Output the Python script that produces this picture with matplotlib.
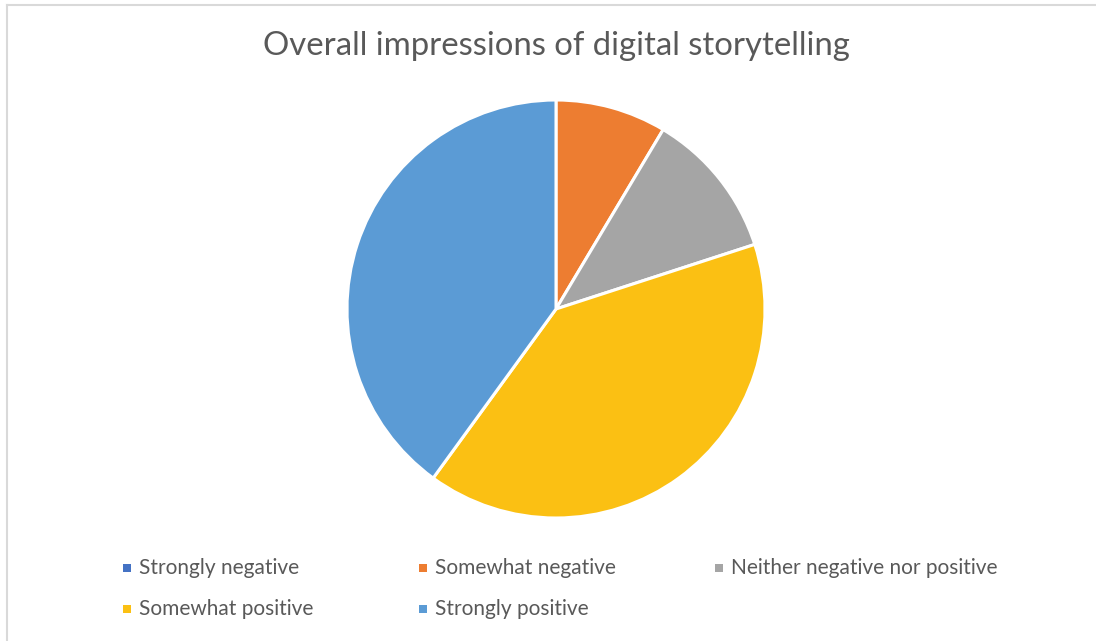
import matplotlib
matplotlib.use("Agg")
import matplotlib.pyplot as plt
from matplotlib.patches import Rectangle
from matplotlib.lines import Line2D

title = "Overall impressions of digital storytelling"
categories = ["Strongly negative", "Somewhat negative", "Neither negative nor positive",
              "Somewhat positive", "Strongly positive"]
counts = [0, 3, 4, 14, 14]
colors = ["#4472C4", "#ED7D31", "#A5A5A5", "#FBC013", "#5B9BD5"]

W, H = 1096, 641
fig = plt.figure(figsize=(W / 100, H / 100), dpi=100)
fig.patch.set_facecolor("white")

# light frame edges along the top and left of the chart area
frame_kw = dict(transform=fig.transFigure, color="#D9D9D9", linewidth=1.5)
fig.lines.append(Line2D([7 / W, 1.0], [1 - 5 / H, 1 - 5 / H], **frame_kw))
fig.lines.append(Line2D([7 / W, 7 / W], [0.0, 1 - 5 / H], **frame_kw))

cx, cy, r = 556, 309, 209
ax = fig.add_axes([(cx - r) / W, 1 - (cy + r) / H, 2 * r / W, 2 * r / H])
ax.pie(counts, colors=colors, startangle=90, counterclock=False, radius=1,
       wedgeprops=dict(edgecolor="white", linewidth=2.2))
ax.set_xlim(-1, 1)
ax.set_ylim(-1, 1)
ax.set_aspect("equal")
ax.axis("off")

text_color = "#595959"
fig.text(cx / W, 1 - 46 / H, title, ha="center", va="center", fontsize=23.7,
         color=text_color, family="Lato")

# legend laid out in two rows of three columns
col_x = [127, 423, 719]
row_y = [568, 609]
for i, (label, c) in enumerate(zip(categories, colors)):
    row, col = divmod(i, 3)
    x, y = col_x[col], row_y[row]
    s = 8
    fig.patches.append(Rectangle(((x - s / 2) / W, 1 - (y + s / 2) / H), s / W, s / H,
                                 transform=fig.transFigure, facecolor=c, edgecolor="none"))
    fig.text((x + 12) / W, 1 - y / H, label, ha="left", va="center", fontsize=15,
             color=text_color, family="Lato")

fig.savefig("out.png", dpi=100, facecolor="white")
